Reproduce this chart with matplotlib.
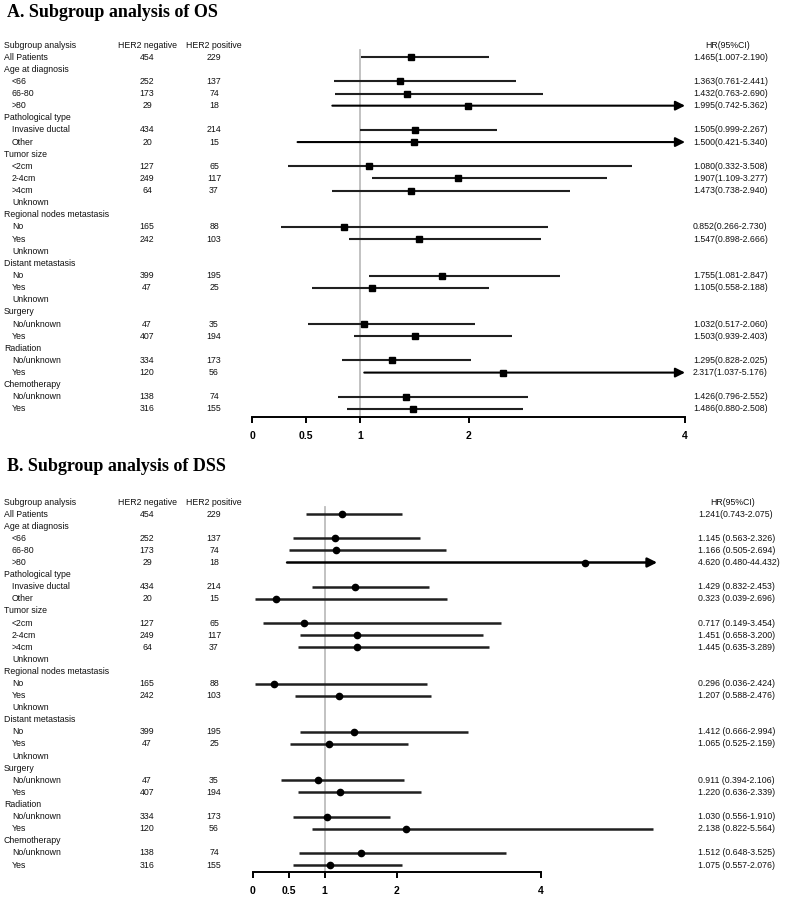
import matplotlib
matplotlib.use("Agg")
import matplotlib.pyplot as plt
from matplotlib.transforms import blended_transform_factory

# ---------------- data ----------------
row_labels = ["All Patients", "Age at diagnosis", "<66", "66-80", ">80",
              "Pathological type", "Invasive ductal", "Other",
              "Tumor size", "<2cm", "2-4cm", ">4cm", "Unknown",
              "Regional nodes metastasis", "No", "Yes", "Unknown",
              "Distant metastasis", "No", "Yes", "Unknown",
              "Surgery", "No/unknown", "Yes",
              "Radiation", "No/unknown", "Yes",
              "Chemotherapy", "No/unknown", "Yes"]
row_indent = [0, 0, 1, 1, 1, 0, 1, 1, 0, 1, 1, 1, 1, 0, 1, 1, 1,
              0, 1, 1, 1, 0, 1, 1, 0, 1, 1, 0, 1, 1]
her2_neg = ["454", "", "252", "173", "29", "", "434", "20", "", "127", "249", "64", "",
            "", "165", "242", "", "", "399", "47", "", "", "47", "407", "", "334", "120",
            "", "138", "316"]
her2_pos = ["229", "", "137", "74", "18", "", "214", "15", "", "65", "117", "37", "",
            "", "88", "103", "", "", "195", "25", "", "", "35", "194", "", "173", "56",
            "", "74", "155"]

# rows with estimates (index into row_labels)
est_rows = [0, 2, 3, 4, 6, 7, 9, 10, 11, 14, 15, 18, 19, 22, 23, 25, 26, 28, 29]

os_hr = [1.465, 1.363, 1.432, 1.995, 1.505, 1.500, 1.080, 1.907, 1.473, 0.852, 1.547,
         1.755, 1.105, 1.032, 1.503, 1.295, 2.317, 1.426, 1.486]
os_lo = [1.007, 0.761, 0.763, 0.742, 0.999, 0.421, 0.332, 1.109, 0.738, 0.266, 0.898,
         1.081, 0.558, 0.517, 0.939, 0.828, 1.037, 0.796, 0.880]
os_hi = [2.190, 2.441, 2.690, 5.362, 2.267, 5.340, 3.508, 3.277, 2.940, 2.730, 2.666,
         2.847, 2.188, 2.060, 2.403, 2.025, 5.176, 2.552, 2.508]

dss_hr = [1.241, 1.145, 1.166, 4.620, 1.429, 0.323, 0.717, 1.451, 1.445, 0.296, 1.207,
          1.412, 1.065, 0.911, 1.220, 1.030, 2.138, 1.512, 1.075]
dss_lo = [0.743, 0.563, 0.505, 0.480, 0.832, 0.039, 0.149, 0.658, 0.635, 0.036, 0.588,
          0.666, 0.525, 0.394, 0.636, 0.556, 0.822, 0.648, 0.557]
dss_hi = [2.075, 2.326, 2.694, 44.432, 2.453, 2.696, 3.454, 3.200, 3.289, 2.424, 2.476,
          2.994, 2.159, 2.106, 2.339, 1.910, 5.564, 3.525, 2.076]

tick_vals = [0, 0.5, 1, 2, 4]
tick_labels = ["0", "0.5", "1", "2", "4"]

titles = ["A. Subgroup analysis of OS", "B. Subgroup analysis of DSS"]

# ---------------- figure ----------------
W, H = 787, 899
fig = plt.figure(figsize=(W / 100, H / 100), dpi=100)
plt.rcParams['font.family'] = ['Liberation Sans', 'DejaVu Sans']
TXT = '#111111'
FS = 6.3


def fx(px):
    return px / W


def fy(py):
    return 1 - py / H


def panel(title, title_y, hr, lo, hi, ax_left, ax_right_px, xmax, cap,
          top_px, axis_px, header_px, row_step, hr_left, hr_center,
          lw, marker, ms, space_fmt):
    ax = fig.add_axes([fx(ax_left), fy(axis_px), (ax_right_px - ax_left) / W,
                       (axis_px - top_px) / H])
    ax.set_xlim(0, xmax)
    y_top = (top_px - header_px) / row_step
    y_bot = (axis_px - header_px) / row_step
    ax.set_ylim(y_bot, y_top)
    for s in ['top', 'right', 'left']:
        ax.spines[s].set_visible(False)
    ax.spines['bottom'].set_bounds(0, 4)
    ax.spines['bottom'].set_linewidth(1.4)
    ax.set_yticks([])
    ax.set_xticks(tick_vals)
    ax.set_xticklabels(tick_labels, fontsize=7.5, fontweight='bold')
    ax.tick_params(axis='x', direction='out', length=4, width=1.4, pad=6)
    ax.patch.set_visible(False)

    # reference line at 1
    ax.plot([1, 1], [0.45, y_bot], color='#bdbdbd', lw=1.3, zorder=1, clip_on=False)

    tr = blended_transform_factory(fig.transFigure, ax.transData)
    # header
    ax.text(fx(4), 0, "Subgroup analysis", transform=tr, fontsize=FS, va='center',
            ha='left', color=TXT)
    ax.text(fx(147), 0, "HER2 negative", transform=tr, fontsize=FS, va='center',
            ha='center', color=TXT)
    ax.text(fx(214), 0, "HER2 positive", transform=tr, fontsize=FS, va='center',
            ha='center', color=TXT)
    ax.text(fx(hr_center), 0, "HR(95%CI)", transform=tr, fontsize=FS, va='center',
            ha='center', color=TXT)
    for i, (lab, ind) in enumerate(zip(row_labels, row_indent)):
        y = i + 1
        ax.text(fx(4 + 8 * ind), y, lab, transform=tr, fontsize=FS, va='center',
                ha='left', color=TXT)
        if her2_neg[i]:
            ax.text(fx(147), y, her2_neg[i], transform=tr, fontsize=FS, va='center',
                    ha='center', color=TXT)
            ax.text(fx(214), y, her2_pos[i], transform=tr, fontsize=FS, va='center',
                    ha='center', color=TXT)

    for k, r in enumerate(est_rows):
        y = r + 1
        h, l, u = hr[k], lo[k], hi[k]
        if u > cap:
            ax.annotate('', xy=(cap, y), xytext=(l, y), xycoords='data',
                        arrowprops=dict(arrowstyle='-|>', mutation_scale=14,
                                        lw=lw, color='black', shrinkA=0, shrinkB=0),
                        annotation_clip=False)
        else:
            ax.plot([l, u], [y, y], color='#202020', lw=lw, solid_capstyle='butt',
                    clip_on=False, zorder=2)
        ax.plot([h], [y], marker=marker, color='black', ms=ms, zorder=3, clip_on=False)
        if space_fmt and k > 0:
            s = f"{h:.3f} ({l:.3f}-{u:.3f})"
        else:
            s = f"{h:.3f}({l:.3f}-{u:.3f})"
        ax.text(fx(hr_left), y, s, transform=tr, fontsize=FS, va='center',
                ha='left', color=TXT)

    fig.text(fx(7), fy(title_y), title, fontsize=13, fontweight='bold',
             family='Liberation Serif', va='baseline', ha='left', color='black')
    return ax


# Panel A: 0 at 252 px, 108.25 px/unit
panel(titles[0], 17, os_hr, os_lo, os_hi, ax_left=252, ax_right_px=252 + 4 * 108.25,
      xmax=4, cap=4.0, top_px=39, axis_px=417, header_px=45, row_step=12.133,
      hr_left=693, hr_center=728, lw=1.5, marker='s', ms=4.2, space_fmt=False)

# Panel B: 0 at 252.5 px, 72 px/unit
panel(titles[1], 471, dss_hr, dss_lo, dss_hi, ax_left=252.5,
      ax_right_px=252.5 + 5.7 * 72, xmax=5.7, cap=5.62, top_px=496, axis_px=872,
      header_px=502, row_step=12.1, hr_left=698, hr_center=733, lw=1.8, marker='o',
      ms=4.5, space_fmt=True)

fig.savefig("out.png", dpi=100)
